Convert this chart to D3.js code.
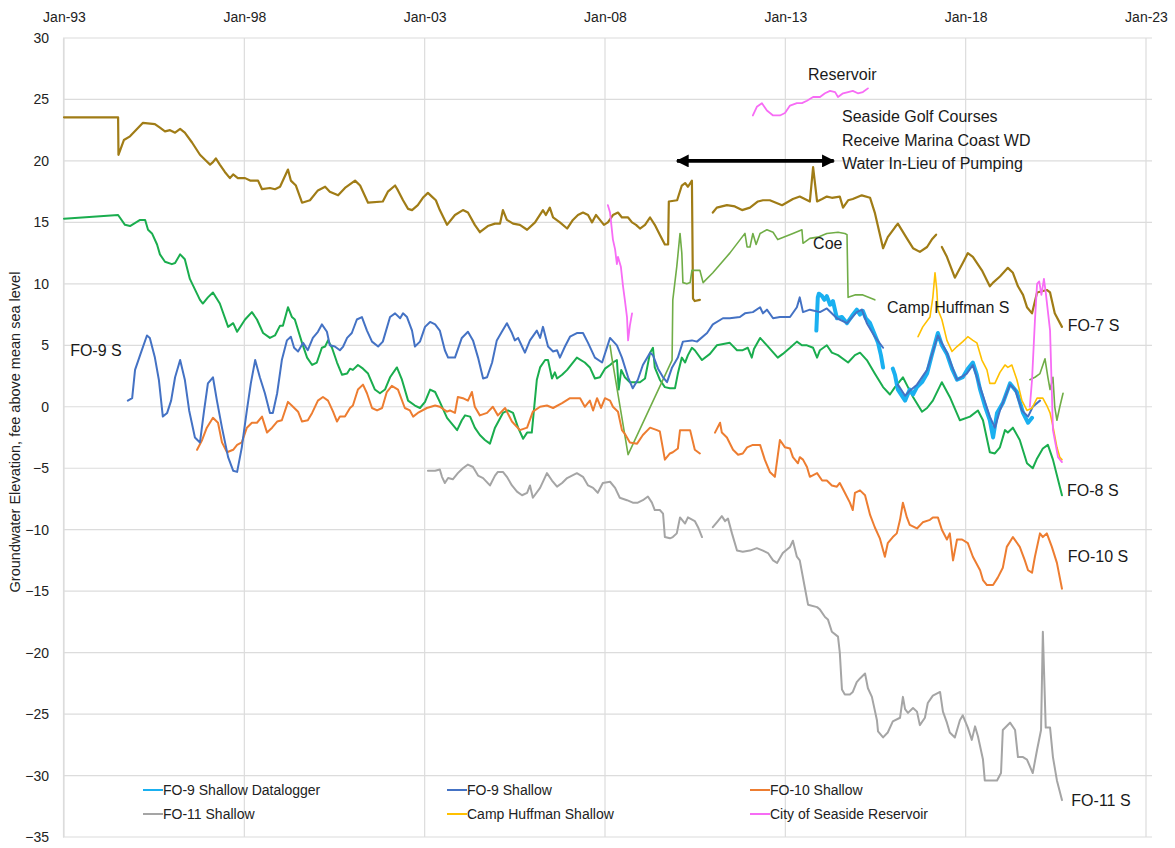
<!DOCTYPE html>
<html><head><meta charset="utf-8">
<script src="https://cdn.jsdelivr.net/npm/d3@7"></script>
<style>body{margin:0;background:#fff}svg{font-family:Arial,"Liberation Sans",sans-serif}</style>
</head><body><svg id="c" width="1175" height="848"></svg>
<script>
// ---------- DATA ----------
const xTickYears = [1993,1998,2003,2008,2013,2018,2023];
const xTickLabels = ["Jan-93","Jan-98","Jan-03","Jan-08","Jan-13","Jan-18","Jan-23"];
const yTickValues = [30,25,20,15,10,5,0,-5,-10,-15,-20,-25,-30,-35];
const yTitle = "Groundwater Elevation, fee above mean sea level";

const fo7 = [[1993.0,23.55],[1994.50,23.55],[1994.51,20.5],[1994.66,21.7],[1994.83,22.0],[1995.19,23.1],[1995.52,23.0],[1995.66,22.7],[1995.80,22.4],[1995.94,22.5],[1996.08,22.3],[1996.22,22.6],[1996.35,22.3],[1996.55,21.5],[1996.77,20.5],[1996.91,20.1],[1997.05,19.7],[1997.13,19.9],[1997.21,20.2],[1997.32,19.7],[1997.46,19.1],[1997.60,18.6],[1997.69,18.9],[1997.82,18.6],[1998.02,18.6],[1998.16,18.4],[1998.38,18.4],[1998.49,17.7],[1998.71,17.8],[1998.85,17.7],[1998.99,17.9],[1999.21,19.3],[1999.29,18.4],[1999.43,18.0],[1999.60,16.6],[1999.82,16.8],[2000.04,17.6],[2000.24,17.9],[2000.37,17.5],[2000.60,17.2],[2000.79,17.8],[2001.07,18.4],[2001.21,18.0],[2001.43,16.6],[2001.84,16.7],[2001.98,17.5],[2002.18,18.0],[2002.26,17.6],[2002.40,16.8],[2002.54,16.1],[2002.65,16.0],[2002.81,16.4],[2002.95,17.0],[2003.09,17.4],[2003.20,17.1],[2003.31,16.8],[2003.42,16.0],[2003.62,14.8],[2003.84,15.6],[2004.06,16.0],[2004.20,15.8],[2004.39,14.8],[2004.53,14.2],[2004.75,14.7],[2004.95,14.9],[2005.09,14.9],[2005.17,16.0],[2005.28,15.2],[2005.45,14.9],[2005.64,14.8],[2005.84,14.4],[2006.06,15.0],[2006.28,16.0],[2006.36,15.6],[2006.47,16.2],[2006.56,15.4],[2006.75,15.0],[2006.95,14.5],[2007.11,15.2],[2007.25,15.6],[2007.39,15.8],[2007.53,15.6],[2007.64,15.0],[2007.75,15.6],[2007.86,15.2],[2007.97,14.8],[2008.08,15.0],[2008.22,15.6],[2008.36,15.8],[2008.47,15.4],[2008.64,15.4],[2008.75,15.0],[2008.86,14.8],[2008.97,14.5],[2009.11,14.8],[2009.25,15.4],[2009.38,14.8],[2009.52,14.0],[2009.66,13.2],[2009.75,13.2],[2009.77,16.7],[2010.00,16.8],[2010.13,18.0],[2010.22,18.2],[2010.30,17.9],[2010.41,18.4],[2010.44,8.8],[2010.49,8.6],[2010.63,8.7],null,
[2010.99,15.8],[2011.10,16.2],[2011.38,16.4],[2011.60,16.3],[2011.80,16.0],[2012.02,16.2],[2012.24,16.7],[2012.38,16.8],[2012.57,16.8],[2012.91,16.4],[2013.21,16.9],[2013.40,17.1],[2013.68,16.7],[2013.77,19.5],[2013.88,16.7],[2014.02,16.9],[2014.15,17.1],[2014.29,17.0],[2014.51,17.1],[2014.60,16.2],[2014.74,16.8],[2014.87,16.9],[2015.12,17.2],[2015.35,17.0],[2015.48,15.8],[2015.71,12.9],[2015.84,13.8],[2016.04,14.6],[2016.12,14.9],[2016.37,13.7],[2016.54,12.9],[2016.73,12.6],[2016.93,13.0],[2017.06,13.6],[2017.18,14.0],null,
[2017.34,13.0],[2017.48,12.2],[2017.70,10.5],[2017.92,11.7],[2018.06,12.5],[2018.20,12.2],[2018.45,11.1],[2018.67,9.8],[2018.76,10.1],[2018.95,10.6],[2019.17,11.3],[2019.31,10.9],[2019.45,9.8],[2019.59,9.1],[2019.70,8.1],[2019.84,7.6],[2019.98,9.3],[2020.25,9.5],[2020.34,9.3],[2020.47,7.6],[2020.67,6.5]];

const fo8 = [[1993.0,15.3],[1994.50,15.6],[1994.69,14.8],[1994.83,14.7],[1995.11,15.2],[1995.25,15.2],[1995.33,14.4],[1995.44,14.1],[1995.58,13.2],[1995.66,12.4],[1995.80,11.8],[1995.99,11.6],[1996.08,11.7],[1996.22,12.4],[1996.35,12.0],[1996.49,10.4],[1996.77,8.7],[1996.85,8.4],[1996.99,8.9],[1997.13,9.3],[1997.32,8.4],[1997.55,6.5],[1997.69,6.8],[1997.80,6.1],[1998.02,7.1],[1998.21,7.7],[1998.35,7.1],[1998.52,6.0],[1998.71,5.6],[1998.85,5.8],[1998.99,6.6],[1999.07,6.6],[1999.21,8.1],[1999.32,7.3],[1999.40,7.1],[1999.60,5.2],[1999.74,4.0],[1999.88,3.4],[2000.01,3.6],[2000.15,4.8],[2000.24,4.9],[2000.32,5.4],[2000.43,4.8],[2000.57,3.6],[2000.71,2.6],[2000.85,2.7],[2000.93,3.1],[2001.01,3.0],[2001.15,3.4],[2001.29,3.1],[2001.43,2.7],[2001.62,1.4],[2001.76,1.1],[2001.90,1.4],[2002.04,2.4],[2002.23,3.2],[2002.37,2.2],[2002.54,0.5],[2002.73,0.1],[2002.87,-0.1],[2003.01,0.4],[2003.15,1.4],[2003.29,1.2],[2003.42,0.4],[2003.62,-0.9],[2003.90,-1.9],[2004.03,-1.1],[2004.12,-0.7],[2004.26,-0.8],[2004.39,-1.7],[2004.53,-2.3],[2004.67,-2.7],[2004.81,-3.0],[2004.95,-1.7],[2005.17,-0.5],[2005.31,-0.3],[2005.45,-0.5],[2005.59,-1.7],[2005.73,-2.6],[2005.84,-2.1],[2005.97,-2.1],[2006.11,2.2],[2006.20,3.2],[2006.34,3.8],[2006.42,3.8],[2006.53,2.3],[2006.61,2.8],[2006.67,2.3],[2006.81,2.6],[2006.95,3.0],[2007.22,4.0],[2007.44,3.6],[2007.58,3.2],[2007.72,2.3],[2007.86,2.4],[2008.00,3.1],[2008.14,3.4],[2008.22,3.6],[2008.33,3.8],[2008.38,1.4],[2008.45,3.0],[2008.55,2.4],[2008.69,2.0],[2008.97,2.0],[2009.11,2.3],[2009.25,4.4],[2009.33,4.8],[2009.38,3.2],[2009.52,2.2],[2009.66,1.6],[2009.80,1.5],[2009.94,1.5],[2010.02,2.7],[2010.13,4.0],[2010.22,3.6],[2010.30,4.2],[2010.41,4.8],[2010.49,4.6],[2010.69,3.8],[2010.91,4.3],[2011.10,5.0],[2011.46,5.2],[2011.66,4.6],[2011.82,4.6],[2011.96,4.8],[2012.07,4.0],[2012.13,4.7],[2012.30,5.6],[2012.49,5.0],[2012.79,4.0],[2012.93,4.3],[2013.13,4.8],[2013.32,5.3],[2013.46,5.0],[2013.60,5.0],[2013.77,4.8],[2013.88,4.0],[2013.96,4.6],[2014.15,5.0],[2014.29,4.4],[2014.46,4.2],[2014.74,3.6],[2014.93,4.2],[2015.07,4.4],[2015.26,3.8],[2015.48,2.7],[2015.71,1.6],[2015.90,1.0],[2016.04,1.6],[2016.26,2.4],[2016.40,1.6],[2016.54,0.8],[2016.79,-0.4],[2016.93,-0.1],[2017.09,0.5],[2017.34,2.0],[2017.56,0.8],[2017.84,-1.1],[2018.12,-0.8],[2018.34,-0.3],[2018.48,-1.1],[2018.67,-3.7],[2018.81,-3.8],[2018.95,-3.3],[2019.09,-1.9],[2019.17,-2.1],[2019.31,-1.7],[2019.50,-2.7],[2019.70,-4.6],[2019.86,-5.0],[2019.98,-4.2],[2020.14,-3.4],[2020.28,-3.1],[2020.42,-4.3],[2020.67,-7.2]];

const fo9 = [[1994.77,0.5],[1994.89,0.7],[1994.97,3.0],[1995.11,4.2],[1995.30,5.8],[1995.38,5.6],[1995.52,4.0],[1995.63,2.2],[1995.74,-0.8],[1995.86,-0.5],[1995.97,0.5],[1996.08,2.4],[1996.22,3.8],[1996.35,2.2],[1996.47,-0.3],[1996.63,-2.5],[1996.77,-2.9],[1996.88,-0.4],[1996.99,1.9],[1997.13,2.4],[1997.24,0.5],[1997.38,-1.7],[1997.55,-4.1],[1997.69,-5.2],[1997.80,-5.3],[1997.93,-3.3],[1998.07,-0.3],[1998.18,1.9],[1998.30,3.8],[1998.43,2.4],[1998.57,1.1],[1998.71,-0.5],[1998.79,-0.5],[1998.91,1.1],[1999.04,3.8],[1999.18,5.4],[1999.29,5.7],[1999.38,4.8],[1999.49,4.5],[1999.63,5.2],[1999.76,4.6],[1999.90,5.6],[2000.04,6.1],[2000.15,6.7],[2000.29,6.1],[2000.37,5.0],[2000.51,4.9],[2000.65,4.6],[2000.74,4.9],[2000.85,5.6],[2000.98,6.0],[2001.12,7.1],[2001.26,7.3],[2001.40,6.2],[2001.54,5.3],[2001.71,4.9],[2001.84,5.3],[2002.04,7.3],[2002.18,7.6],[2002.32,7.2],[2002.40,7.6],[2002.51,7.3],[2002.65,6.2],[2002.73,4.9],[2002.87,5.3],[2003.01,6.5],[2003.15,6.9],[2003.29,6.7],[2003.42,6.2],[2003.56,4.6],[2003.65,4.0],[2003.84,4.0],[2004.03,5.6],[2004.20,6.1],[2004.34,5.4],[2004.48,4.0],[2004.62,2.3],[2004.73,2.4],[2004.87,3.6],[2005.00,5.4],[2005.14,6.1],[2005.28,6.8],[2005.42,6.0],[2005.50,5.4],[2005.59,5.6],[2005.70,4.9],[2005.78,4.4],[2005.92,5.4],[2006.11,6.2],[2006.20,5.6],[2006.28,6.5],[2006.42,4.9],[2006.56,4.5],[2006.67,4.6],[2006.75,4.0],[2006.89,4.9],[2007.03,5.7],[2007.22,6.0],[2007.39,6.0],[2007.53,5.2],[2007.72,4.0],[2007.92,3.6],[2008.14,5.6],[2008.33,5.0],[2008.47,4.0],[2008.64,2.4],[2008.77,1.5],[2008.91,2.2],[2009.05,3.4],[2009.25,4.4],[2009.33,4.2],[2009.47,3.1],[2009.61,2.4],[2009.72,2.0],[2009.86,3.2],[2010.02,4.0],[2010.16,5.3],[2010.41,5.4],[2010.55,5.3],[2010.83,6.0],[2010.99,6.7],[2011.27,7.2],[2011.46,7.2],[2011.74,7.3],[2011.88,7.6],[2012.10,7.7],[2012.30,8.1],[2012.38,7.6],[2012.49,7.9],[2012.66,7.2],[2012.85,7.3],[2013.13,7.3],[2013.32,8.1],[2013.40,8.9],[2013.49,7.7],[2013.68,7.9],[2013.96,7.7],[2014.15,8.0],[2014.43,7.2],[2014.71,6.8],[2014.98,7.7],[2015.12,7.9],[2015.26,6.8],[2015.48,5.7],[2015.71,4.8],null,
[2016.12,1.8],[2016.32,0.9],[2016.45,1.3],[2016.65,1.8],[2016.93,3.0],[2017.23,5.8],[2017.48,4.4],[2017.76,2.2],[2018.03,2.7],[2018.20,3.4],[2018.40,1.6],[2018.67,-0.8],[2018.81,-1.7],[2018.95,-0.3],[2019.23,1.8],[2019.37,1.4],[2019.56,-0.3],[2019.73,-0.8],[2019.86,0.0],[2020.06,0.5]];

const fo9Logger = [[2013.86,6.2],[2013.90,8.9],[2013.93,9.2],[2014.02,9.0],[2014.08,8.7],[2014.15,9.0],[2014.24,8.3],[2014.32,8.6],[2014.43,7.2],[2014.57,7.3],[2014.71,6.8],[2014.85,7.4],[2014.98,7.9],[2015.07,7.5],[2015.15,7.8],[2015.23,7.2],[2015.35,6.8],[2015.46,6.0],[2015.57,5.2],[2015.65,4.2],[2015.71,3.2],null,
[2015.98,3.1],[2016.04,2.6],[2016.12,1.4],[2016.23,0.9],[2016.32,0.5],[2016.45,1.4],[2016.54,1.0],[2016.65,1.6],[2016.79,2.0],[2016.93,2.7],[2017.06,4.2],[2017.23,6.0],[2017.34,5.0],[2017.48,4.3],[2017.62,3.1],[2017.76,2.2],[2017.92,2.4],[2018.06,3.1],[2018.20,3.6],[2018.31,2.6],[2018.40,1.4],[2018.53,0.1],[2018.67,-1.1],[2018.76,-2.5],[2018.87,-0.5],[2019.03,0.3],[2019.23,1.9],[2019.42,1.2],[2019.59,-0.5],[2019.73,-1.3],[2019.84,-0.9]];

const fo10 = [[1996.69,-3.5],[1996.83,-2.7],[1996.96,-1.7],[1997.13,-0.9],[1997.27,-1.3],[1997.38,-2.9],[1997.52,-3.7],[1997.69,-3.5],[1997.80,-3.1],[1997.93,-2.9],[1998.07,-1.7],[1998.21,-1.3],[1998.35,-1.3],[1998.49,-0.8],[1998.63,-2.1],[1998.77,-1.7],[1998.91,-1.2],[1999.04,-1.1],[1999.21,0.4],[1999.35,0.0],[1999.49,-0.4],[1999.60,-1.2],[1999.76,-1.1],[1999.88,-0.5],[2000.04,0.5],[2000.18,0.8],[2000.32,0.5],[2000.46,-0.4],[2000.57,-1.2],[2000.65,-0.8],[2000.79,-0.8],[2000.93,-0.1],[2001.01,0.1],[2001.15,1.4],[2001.29,1.8],[2001.40,1.1],[2001.54,-0.1],[2001.68,-0.3],[2001.82,-0.1],[2001.95,1.2],[2002.09,1.7],[2002.26,1.4],[2002.45,-0.1],[2002.59,-0.3],[2002.68,-0.8],[2002.81,-0.5],[2003.06,-0.1],[2003.29,0.1],[2003.42,0.0],[2003.62,-0.4],[2003.70,-0.3],[2003.84,-0.5],[2003.92,0.8],[2004.06,0.7],[2004.20,0.5],[2004.31,1.2],[2004.39,0.0],[2004.53,-0.7],[2004.73,-0.5],[2004.89,0.0],[2005.03,-0.7],[2005.23,-0.1],[2005.42,-1.2],[2005.64,-1.9],[2005.84,-1.7],[2006.00,-0.4],[2006.20,0.0],[2006.39,0.1],[2006.56,-0.1],[2006.81,0.3],[2007.03,0.7],[2007.31,0.7],[2007.44,0.0],[2007.58,0.5],[2007.67,-0.3],[2007.78,0.7],[2007.89,-0.1],[2008.00,0.7],[2008.14,0.5],[2008.22,0.0],[2008.36,-0.4],[2008.47,-1.9],[2008.55,-2.2],[2008.69,-2.9],[2008.89,-3.0],[2009.05,-2.3],[2009.25,-1.7],[2009.44,-1.9],[2009.52,-2.0],[2009.66,-4.3],[2009.80,-3.8],[2009.88,-3.7],[2010.02,-3.4],[2010.08,-1.9],[2010.27,-1.9],[2010.36,-1.9],[2010.49,-3.5],[2010.63,-3.8],null,
[2011.05,-2.1],[2011.19,-1.3],[2011.24,-2.1],[2011.38,-2.5],[2011.55,-3.5],[2011.69,-3.9],[2011.82,-3.8],[2011.94,-3.3],[2012.10,-3.1],[2012.30,-3.1],[2012.43,-4.3],[2012.57,-5.3],[2012.71,-5.7],[2012.85,-2.7],[2012.99,-3.3],[2013.13,-3.4],[2013.21,-4.1],[2013.35,-4.6],[2013.40,-4.1],[2013.49,-4.3],[2013.60,-4.9],[2013.68,-5.7],[2013.88,-5.4],[2014.02,-6.0],[2014.15,-6.0],[2014.29,-6.4],[2014.43,-6.5],[2014.51,-6.2],[2014.65,-7.0],[2014.79,-7.8],[2014.87,-8.4],[2014.93,-7.0],[2015.07,-6.8],[2015.21,-7.2],[2015.35,-8.8],[2015.48,-9.8],[2015.62,-10.7],[2015.76,-12.2],[2015.84,-11.1],[2015.98,-10.6],[2016.09,-10.3],[2016.18,-9.2],[2016.26,-7.8],[2016.37,-9.0],[2016.45,-9.6],[2016.65,-9.9],[2016.81,-9.4],[2017.01,-9.2],[2017.09,-9.0],[2017.23,-9.0],[2017.34,-10.0],[2017.48,-10.8],[2017.56,-10.3],[2017.65,-12.5],[2017.76,-10.8],[2017.90,-10.8],[2018.06,-11.1],[2018.20,-12.2],[2018.40,-13.3],[2018.48,-14.1],[2018.59,-14.5],[2018.76,-14.5],[2018.89,-13.9],[2019.03,-13.1],[2019.14,-11.4],[2019.31,-10.6],[2019.50,-11.4],[2019.64,-12.5],[2019.73,-13.3],[2019.84,-13.5],[2019.92,-12.2],[2020.06,-10.3],[2020.14,-10.6],[2020.25,-10.3],[2020.39,-11.4],[2020.53,-12.7],[2020.67,-14.8]];

const fo11 = [[2003.09,-5.2],[2003.29,-5.2],[2003.42,-5.1],[2003.48,-5.7],[2003.56,-6.2],[2003.65,-5.8],[2003.78,-5.9],[2003.92,-5.4],[2004.06,-5.0],[2004.20,-4.7],[2004.34,-4.9],[2004.48,-5.6],[2004.62,-5.8],[2004.81,-6.4],[2004.95,-5.6],[2005.03,-5.3],[2005.17,-5.3],[2005.28,-5.7],[2005.42,-6.4],[2005.56,-6.9],[2005.70,-7.2],[2005.84,-7.0],[2005.92,-6.4],[2006.00,-7.4],[2006.20,-6.6],[2006.39,-5.4],[2006.53,-6.0],[2006.67,-6.5],[2006.81,-6.2],[2006.95,-5.8],[2007.22,-5.4],[2007.39,-5.7],[2007.53,-6.4],[2007.67,-6.6],[2007.80,-7.0],[2007.94,-6.2],[2008.14,-6.1],[2008.28,-6.6],[2008.41,-7.4],[2008.61,-7.6],[2008.77,-7.8],[2008.91,-7.8],[2009.05,-7.6],[2009.19,-7.3],[2009.30,-7.8],[2009.38,-8.4],[2009.52,-8.4],[2009.61,-8.7],[2009.66,-10.6],[2009.80,-10.7],[2009.88,-10.6],[2009.99,-10.3],[2010.08,-9.0],[2010.22,-9.5],[2010.30,-9.0],[2010.49,-9.3],[2010.58,-9.8],[2010.69,-10.6],null,
[2010.99,-9.8],[2011.13,-9.3],[2011.24,-8.9],[2011.33,-9.3],[2011.41,-9.1],[2011.52,-10.3],[2011.66,-11.7],[2011.82,-11.8],[2012.02,-11.7],[2012.21,-11.5],[2012.38,-11.7],[2012.52,-11.9],[2012.66,-12.5],[2012.77,-12.7],[2012.93,-11.9],[2013.13,-11.4],[2013.21,-10.9],[2013.32,-12.2],[2013.40,-12.5],[2013.54,-14.7],[2013.63,-16.1],[2013.88,-16.3],[2013.96,-16.5],[2014.10,-17.1],[2014.18,-17.3],[2014.29,-18.3],[2014.46,-18.7],[2014.51,-20.0],[2014.57,-23.0],[2014.65,-23.4],[2014.79,-23.4],[2014.87,-23.2],[2014.98,-22.4],[2015.07,-22.1],[2015.21,-21.7],[2015.29,-22.9],[2015.40,-23.6],[2015.54,-25.5],[2015.57,-26.4],[2015.71,-26.9],[2015.84,-26.5],[2015.98,-25.6],[2016.18,-25.3],[2016.26,-23.6],[2016.32,-24.6],[2016.40,-24.9],[2016.54,-24.5],[2016.65,-24.8],[2016.73,-25.9],[2016.87,-25.3],[2016.95,-24.1],[2017.09,-23.5],[2017.29,-23.2],[2017.37,-24.8],[2017.48,-25.7],[2017.56,-26.5],[2017.70,-26.9],[2017.84,-25.5],[2017.92,-25.1],[2018.06,-26.1],[2018.17,-27.1],[2018.26,-26.0],[2018.34,-26.8],[2018.48,-28.7],[2018.53,-30.4],[2018.76,-30.4],[2018.87,-30.4],[2018.98,-29.8],[2019.03,-26.3],[2019.23,-25.7],[2019.37,-26.3],[2019.45,-28.5],[2019.59,-28.5],[2019.70,-28.7],[2019.86,-29.8],[2019.98,-27.9],[2020.09,-26.3],[2020.14,-18.3],[2020.22,-26.1],[2020.34,-26.1],[2020.42,-28.5],[2020.53,-30.4],[2020.67,-32.0]];

const coe = [[2008.14,5.0],[2008.19,4.0],[2008.64,-3.9],[2009.86,3.8],[2009.88,8.7],[2009.99,11.4],[2010.08,14.1],[2010.13,12.5],[2010.16,10.1],[2010.27,10.0],[2010.36,10.1],[2010.41,11.1],[2010.63,11.1],[2010.72,10.1],[2010.99,10.9],[2011.46,12.5],[2011.80,13.8],[2011.88,14.1],[2011.94,13.0],[2012.02,13.0],[2012.10,14.1],[2012.19,13.2],[2012.30,14.1],[2012.49,14.4],[2012.66,14.2],[2012.79,13.6],[2013.21,14.1],[2013.46,14.4],[2013.49,13.3],[2013.68,13.7],[2013.90,13.8],[2014.15,14.1],[2014.46,14.2],[2014.65,14.1],[2014.71,14.0],[2014.74,8.9],[2014.93,9.1],[2015.15,9.1],[2015.48,8.7],null,
[2019.78,2.2],[2019.92,2.4],[2020.06,2.7],[2020.20,3.9],[2020.28,2.4],[2020.34,1.4],[2020.42,2.4],[2020.47,0.0],[2020.53,-1.1],[2020.61,0.0],[2020.70,1.1]];

const campHuffman = [[2016.68,5.7],[2016.81,6.5],[2017.01,7.3],[2017.09,8.9],[2017.15,10.9],[2017.20,9.5],[2017.23,7.9],[2017.34,7.1],[2017.48,5.4],[2017.62,4.5],[2017.76,4.9],[2017.92,5.3],[2018.06,5.7],[2018.20,5.4],[2018.31,5.2],[2018.45,3.8],[2018.59,3.0],[2018.67,1.9],[2018.81,1.9],[2018.95,2.8],[2019.09,3.4],[2019.17,3.2],[2019.28,3.4],[2019.42,2.2],[2019.56,0.5],[2019.70,-0.3],[2019.84,-0.1],[2019.98,0.7],[2020.14,0.7],[2020.25,0.1],[2020.34,-0.5],[2020.42,-1.6],[2020.53,-3.3],[2020.61,-4.1],[2020.67,-4.3]];

const reservoir = [[2008.08,16.4],[2008.14,15.8],[2008.22,13.6],[2008.28,12.8],[2008.33,11.6],[2008.36,12.2],[2008.44,11.4],[2008.50,9.8],[2008.55,8.7],[2008.61,7.3],[2008.64,5.4],[2008.69,6.6],[2008.75,7.6],null,
[2012.10,23.7],[2012.21,24.4],[2012.35,24.7],[2012.49,24.1],[2012.66,23.7],[2012.85,23.7],[2012.99,23.9],[2013.13,24.5],[2013.32,24.7],[2013.46,24.7],[2013.60,24.9],[2013.77,25.2],[2013.96,25.2],[2014.10,25.5],[2014.24,25.7],[2014.38,25.6],[2014.46,25.2],[2014.60,25.5],[2014.74,25.6],[2014.87,25.7],[2015.01,25.5],[2015.15,25.6],[2015.29,25.9],null,
[2019.78,0.0],[2019.84,2.2],[2019.92,7.0],[2019.98,10.0],[2020.04,10.2],[2020.10,9.1],[2020.17,10.4],[2020.22,9.3],[2020.34,6.2],[2020.42,-1.9],[2020.56,-4.1],[2020.67,-4.5]];

// annotation text: [label, year, value]
const wellLabels = [["FO-9 S",1993.17,4.6],["FO-7 S",2020.83,6.6],["FO-8 S",2020.81,-6.8],["FO-10 S",2020.83,-12.2],["FO-11 S",2020.93,-32.0],["Coe",2013.77,13.3],["Camp Huffman S",2015.82,8.1],["Reservoir",2013.63,27.0]];
const noteLines = ["Seaside Golf Courses","Receive Marina Coast WD","Water In-Lieu of Pumping"];
const noteYear = 2014.57, noteValues = [23.6,21.7,19.8];
const arrowYears = [2009.97,2014.37], arrowValue = 20;

const legendNames = ["FO-9 Shallow Datalogger","FO-9 Shallow","FO-10 Shallow","FO-11 Shallow","Camp Huffman Shallow","City of Seaside Reservoir"];

// ---------- CHART ----------
const svg = d3.select("#c");
const x = d3.scaleLinear().domain([1993,2023]).range([64,1146]);
const y = d3.scaleLinear().domain([-35,30]).range([837,38]);
const gridColor = "#dcdcdc";

const grid = svg.append("g");
grid.selectAll("line.h").data(yTickValues).join("line")
  .attr("x1",63).attr("x2",1152).attr("y1",d=>y(d)).attr("y2",d=>y(d))
  .attr("stroke",gridColor).attr("stroke-width",1.2);
grid.selectAll("line.v").data(xTickYears).join("line")
  .attr("x1",d=>x(d)).attr("x2",d=>x(d)).attr("y1",y(30)).attr("y2",y(-35))
  .attr("stroke",gridColor).attr("stroke-width",1.2);

const yAxis = d3.axisLeft(y).tickValues(yTickValues).tickSize(0).tickPadding(14).tickFormat(d3.format("d"));
const gy = svg.append("g").attr("transform","translate(63,0)").call(yAxis);
gy.select(".domain").attr("stroke",gridColor).attr("stroke-width",1.2);
gy.selectAll("text").attr("font-size",14).attr("fill","#222").attr("font-family","Arial, 'Liberation Sans', sans-serif");

const xAxis = d3.axisTop(x).tickValues(xTickYears).tickSize(0).tickPadding(0).tickFormat((d,i)=>xTickLabels[i]);
const gx = svg.append("g").attr("transform","translate(0,22)").call(xAxis);
gx.select(".domain").remove();
gx.selectAll("text").attr("font-size",14).attr("fill","#222").attr("font-family","Arial, 'Liberation Sans', sans-serif");

svg.append("text").attr("transform","translate(20,432) rotate(-90)").attr("text-anchor","middle")
  .attr("font-size",14.5).attr("fill","#222").text(yTitle);

const line = d3.line().defined(d=>d!==null).x(d=>x(d[0])).y(d=>y(d[1]));
const series = [
  {name:legendNames[0], data:fo9Logger, color:"#1ab0f0", w:4},
  {name:legendNames[1], data:fo9, color:"#4472c4", w:2},
  {name:legendNames[2], data:fo10, color:"#ed7d31", w:2},
  {name:legendNames[3], data:fo11, color:"#a5a5a5", w:2},
  {name:"FO-8", data:fo8, color:"#1aad4e", w:2},
  {name:"Coe", data:coe, color:"#70ad47", w:1.6},
  {name:"FO-7", data:fo7, color:"#a07c16", w:2.2},
  {name:legendNames[4], data:campHuffman, color:"#ffc000", w:1.6},
  {name:legendNames[5], data:reservoir, color:"#f76cf5", w:1.8}
];
const order = [4,6,5,2,3,0,1,7,8];
svg.append("g").selectAll("path").data(order.map(i=>series[i])).join("path")
  .attr("d",d=>line(d.data)).attr("fill","none").attr("stroke",d=>d.color)
  .attr("stroke-width",d=>d.w).attr("stroke-linejoin","round").attr("stroke-linecap","round");

svg.append("g").selectAll("text").data(wellLabels).join("text")
  .attr("x",d=>x(d[1])).attr("y",d=>y(d[2])).attr("dy","0.35em")
  .attr("font-size",16).attr("fill","#1a1a1a").text(d=>d[0]);
svg.append("g").selectAll("text").data(noteLines).join("text")
  .attr("x",x(noteYear)).attr("y",(d,i)=>y(noteValues[i])).attr("dy","0.35em")
  .attr("font-size",16).attr("fill","#1a1a1a").text(d=>d);

const defs = svg.append("defs");
defs.append("marker").attr("id","ah").attr("viewBox","0 0 10 10").attr("refX",9).attr("refY",5)
  .attr("markerWidth",4.2).attr("markerHeight",3.6).attr("orient","auto-start-reverse")
  .attr("markerUnits","strokeWidth")
  .append("path").attr("d","M0,0 L10,5 L0,10 Z").attr("fill","#000");
svg.append("line").attr("x1",x(arrowYears[0])+1).attr("x2",x(arrowYears[1])-1)
  .attr("y1",y(arrowValue)).attr("y2",y(arrowValue))
  .attr("stroke","#000").attr("stroke-width",3.6)
  .attr("marker-start","url(#ah)").attr("marker-end","url(#ah)");

const legendColors = [series[0].color,series[1].color,series[2].color,series[3].color,series[7].color,series[8].color];
const legCols = [143,447,750], legRows = [790,814];
const lg = svg.append("g");
legendNames.forEach((n,i)=>{
  const cx = legCols[i%3], cy = legRows[Math.floor(i/3)];
  lg.append("line").attr("x1",cx).attr("x2",cx+20).attr("y1",cy).attr("y2",cy)
    .attr("stroke",legendColors[i]).attr("stroke-width",2);
  lg.append("text").attr("x",cx+20).attr("y",cy).attr("dy","0.35em")
    .attr("font-size",14).attr("fill","#222").text(n);
});
</script></body></html>
